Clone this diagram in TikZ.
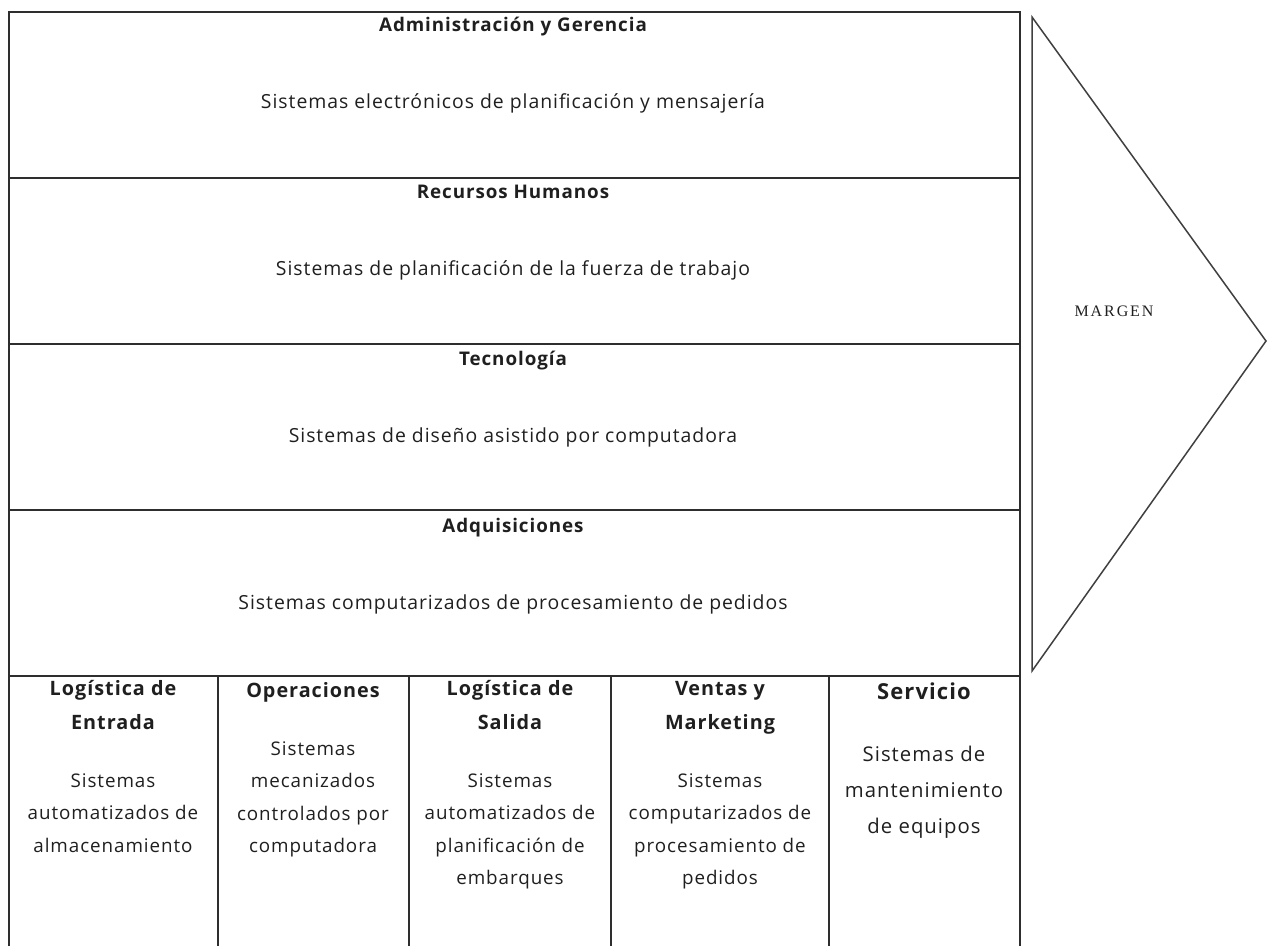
\documentclass[tikz,border=0pt]{standalone}
\usepackage{fontspec}
\setmainfont[LetterSpace=5]{Open Sans}
\newfontfamily\marginfont[LetterSpace=12]{Liberation Serif}
\tikzset{
  frame/.style={draw=black!82, line width=2pt},
  chev/.style={draw=black!75, line width=1.5pt, line join=miter},
  txt/.style={align=center, inner sep=0pt, text=black!88},
  head/.style={txt, anchor=base, font=\fontsize{18.8}{22}\selectfont\bfseries},
  body/.style={txt, anchor=base, font=\fontsize{19.4}{22}\selectfont},
  colhead/.style={txt, anchor=north, font=\fontsize{19.8}{34}\selectfont\bfseries},
  colbody/.style={txt, anchor=north, font=\fontsize{18.8}{32.5}\selectfont},
}
\begin{document}
\begin{tikzpicture}[x=1pt,y=-1pt]
\useasboundingbox (0,0) rectangle (1267,946);
% frame
\draw[frame] (9,946) -- (9,12) -- (1020,12) -- (1020,946);
\foreach \yy in {178,344,510,676} \draw[frame] (9,\yy) -- (1020,\yy);
\foreach \xx in {218,409,611,829} \draw[frame] (\xx,676) -- (\xx,946);
% chevron
\draw[chev] (1032,17) -- (1266,341) -- (1032,671) -- cycle;
\node[txt, anchor=base, font=\marginfont\fontsize{16}{18}\selectfont] (margen) at (1114,316) {MARGEN};
% top sections
\node[head] (h1) at (513,31) {Administración y Gerencia};
\node[body] (b1) at (513,108.5) {Sistemas electrónicos de planificación y mensajería};
\node[head] (h2) at (513,198) {Recursos Humanos};
\node[body] (b2) at (513,275.5) {Sistemas de planificación de la fuerza de trabajo};
\node[head] (h3) at (513,365) {Tecnología};
\node[body] (b3) at (513,442) {Sistemas de diseño asistido por computadora};
\node[head] (h4) at (513,532) {Adquisiciones};
\node[body] (b4) at (513,609.5) {Sistemas computarizados de procesamiento de pedidos};
% columns
\node[colhead] (c1h) at (113,671.2) {\strut Logística de\\Entrada};
\node[colbody] (c1b) at (113,764.25) {\strut Sistemas\\automatizados de\\almacenamiento};
\node[head, font=\fontsize{19.8}{34}\selectfont\bfseries] (c2h) at (313,697) {Operaciones};
\node[colbody] (c2b) at (313,732.25) {\strut Sistemas\\mecanizados\\controlados por\\computadora};
\node[colhead] (c3h) at (510,671.2) {\strut Logística de\\Salida};
\node[colbody] (c3b) at (510,764.25) {\strut Sistemas\\automatizados de\\planificación de\\embarques};
\node[colhead] (c4h) at (720,671.2) {\strut Ventas y\\Marketing};
\node[colbody] (c4b) at (720,764.25) {\strut Sistemas\\computarizados de\\procesamiento de\\pedidos};
\node[head, font=\fontsize{22}{34}\selectfont\bfseries] (c5h) at (924,699) {Servicio};
\node[colbody, font=\fontsize{20.3}{36}\selectfont] (c5b) at (924,735.8) {\strut Sistemas de\\mantenimiento\\de equipos};
\end{tikzpicture}
\end{document}
